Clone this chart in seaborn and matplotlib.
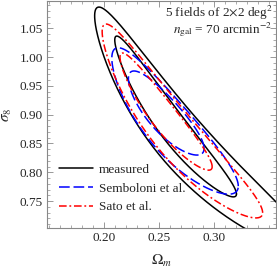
import numpy as np
import pandas as pd
import matplotlib
matplotlib.use("Agg")
import matplotlib.pyplot as plt
import seaborn as sns
from matplotlib.lines import Line2D

# Contour parameters (1-sigma and 2-sigma) for each model.
# Each contour is an ellipse in (ln Om, ln s8 + alpha ln Om).
models = ["measured", "measured", "Semboloni et al.", "Semboloni et al.",
          "Sato et al.", "Sato et al."]
om_c = [0.259, 0.266, 0.254, 0.258, 0.254, 0.261]
s8_c = [0.886, 0.862, 0.900, 0.880, 0.897, 0.873]
alpha = [0.71, 0.66, 0.50, 0.57, 0.64, 0.65]
len_lo = [0.212, 0.330, 0.135, 0.221, 0.170, 0.276]
len_hi = [0.212, 0.380, 0.135, 0.221, 0.160, 0.276]
width = [0.045, 0.080, 0.045, 0.070, 0.040, 0.068]

colors = {"measured": "black", "Semboloni et al.": "blue", "Sato et al.": "red"}
styles = {"measured": "-", "Semboloni et al.": (0, (7, 2.5)),
          "Sato et al.": (0, (5, 1.8, 1.2, 1.8))}

t = np.linspace(0, 2 * np.pi, 600)
rows = []
for i in range(len(models)):
    L = np.where(np.cos(t) < 0, len_lo[i], len_hi[i])
    dx = L * np.cos(t)
    y = np.log(s8_c[i]) + width[i] * np.sin(t) - alpha[i] * dx
    x = np.log(om_c[i]) + dx
    rows.append(pd.DataFrame({"om": np.exp(x), "s8": np.exp(y), "curve": i}))
df = pd.concat(rows)

sns.set_style("ticks")
plt.rcParams["font.family"] = ["Liberation Serif", "DejaVu Serif"]
plt.rcParams["mathtext.fontset"] = "stix"

fig = plt.figure(figsize=(2.77, 2.68), dpi=100)
ax = fig.add_axes([0.170, 0.149, 0.826, 0.848])

for i in range(len(models)):
    m = models[i]
    sns.lineplot(data=df[df.curve == i], x="om", y="s8", sort=False,
                 estimator=None, color=colors[m], linestyle=styles[m],
                 linewidth=1.1, ax=ax)

ax.set_xlim(0.148, 0.356)
ax.set_ylim(0.703, 1.098)
ax.set_xticks([0.20, 0.25, 0.30])
ax.set_yticks([0.75, 0.80, 0.85, 0.90, 0.95, 1.00, 1.05])
ax.set_xticklabels(["0.20", "0.25", "0.30"])
ax.set_yticklabels(["0.75", "0.80", "0.85", "0.90", "0.95", "1.00", "1.05"])
ax.set_xticks(np.arange(0.15, 0.356, 0.01), minor=True)
ax.set_yticks(np.arange(0.71, 1.098, 0.01), minor=True)
ax.tick_params(which="both", direction="in", top=True, right=True,
               color="#888888", labelsize=9.5, pad=3)
ax.tick_params(which="major", length=4, width=0.6)
ax.tick_params(which="minor", length=2, width=0.5)
for sp in ax.spines.values():
    sp.set_color("#888888")
    sp.set_linewidth(0.8)

ax.set_xlabel(r"$\Omega_m$", fontsize=11, labelpad=6)
ax.set_ylabel(r"$\sigma_8$", fontsize=11, labelpad=4)

ax.text(0.985, 0.93, "5 fields of 2$\\times$2 deg$^2$", transform=ax.transAxes,
        ha="right", va="baseline", fontsize=9.5)
ax.text(0.985, 0.858, "$n_{\\rm gal}$ = 70 arcmin$^{-2}$", transform=ax.transAxes,
        ha="right", va="baseline", fontsize=9.5)

handles = [Line2D([], [], color=colors[m], linestyle=styles[m], linewidth=1.1)
           for m in ["measured", "Semboloni et al.", "Sato et al."]]
ax.legend(handles, ["measured", "Semboloni et al.", "Sato et al."],
          loc="lower left", bbox_to_anchor=(0.0, 0.012), frameon=False,
          fontsize=9.5, handlelength=2.6, handletextpad=0.4, labelspacing=0.5)

fig.savefig("out.png", dpi=100)
